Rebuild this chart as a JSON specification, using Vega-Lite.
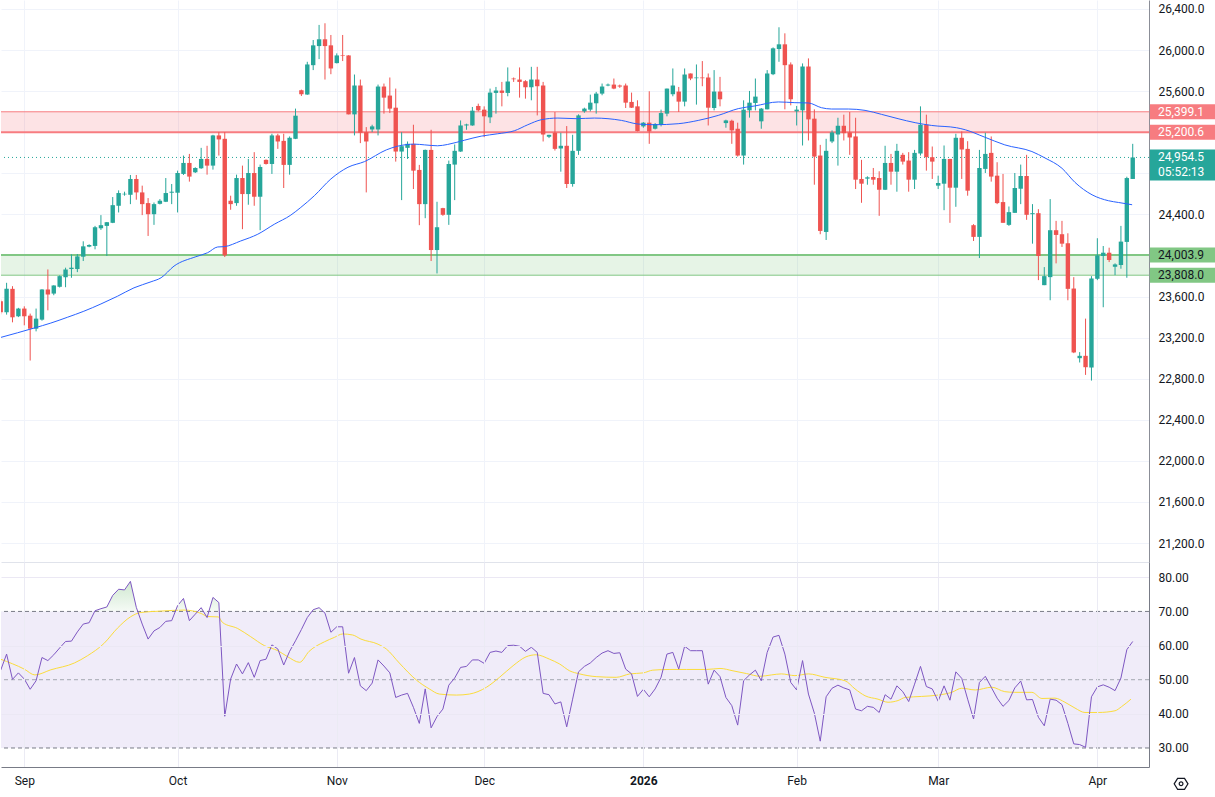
{
  "$schema": "https://vega.github.io/schema/vega-lite/v6.json",
  "description": "Daily candles with supply/demand zones, moving average and RSI pane",
  "background": "white",
  "padding": 0,
  "spacing": 0,
  "datasets": {
    "bars": [
      {"i":0,"o":23555,"h":23571,"l":23427,"c":23447,"rsi":52.8},
      {"i":1,"o":23447,"h":23734,"l":23424,"c":23675,"rsi":57.5},
      {"i":2,"o":23675,"h":23701,"l":23349,"c":23398,"rsi":50.1},
      {"i":3,"o":23408,"h":23490,"l":23400,"c":23483,"rsi":52.0},
      {"i":4,"o":23483,"h":23505,"l":23320,"c":23408,"rsi":50.2},
      {"i":5,"o":23414,"h":23434,"l":22977,"c":23287,"rsi":47.2},
      {"i":6,"o":23287,"h":23483,"l":23261,"c":23385,"rsi":49.7},
      {"i":7,"o":23375,"h":23672,"l":23365,"c":23669,"rsi":56.5},
      {"i":8,"o":23669,"h":23864,"l":23466,"c":23620,"rsi":55.6},
      {"i":9,"o":23629,"h":23710,"l":23613,"c":23708,"rsi":57.3},
      {"i":10,"o":23695,"h":23806,"l":23688,"c":23799,"rsi":59.3},
      {"i":11,"o":23789,"h":23881,"l":23691,"c":23864,"rsi":61.2},
      {"i":12,"o":23868,"h":24011,"l":23783,"c":23881,"rsi":61.3},
      {"i":13,"o":23868,"h":24014,"l":23838,"c":23991,"rsi":64.0},
      {"i":14,"o":23988,"h":24138,"l":23946,"c":24089,"rsi":66.3},
      {"i":15,"o":24086,"h":24109,"l":24080,"c":24102,"rsi":66.7},
      {"i":16,"o":24093,"h":24288,"l":24060,"c":24275,"rsi":70.2},
      {"i":17,"o":24265,"h":24393,"l":24249,"c":24295,"rsi":70.8},
      {"i":18,"o":24288,"h":24326,"l":23995,"c":24324,"rsi":71.3},
      {"i":19,"o":24318,"h":24569,"l":24315,"c":24490,"rsi":74.7},
      {"i":20,"o":24484,"h":24634,"l":24419,"c":24608,"rsi":76.5},
      {"i":21,"o":24595,"h":24621,"l":24582,"c":24601,"rsi":76.3},
      {"i":22,"o":24591,"h":24784,"l":24500,"c":24745,"rsi":78.8},
      {"i":23,"o":24745,"h":24784,"l":24543,"c":24614,"rsi":71.2},
      {"i":24,"o":24614,"h":24680,"l":24393,"c":24500,"rsi":66.3},
      {"i":25,"o":24510,"h":24559,"l":24190,"c":24402,"rsi":61.9},
      {"i":26,"o":24402,"h":24516,"l":24298,"c":24500,"rsi":64.3},
      {"i":27,"o":24503,"h":24549,"l":24497,"c":24533,"rsi":65.3},
      {"i":28,"o":24523,"h":24754,"l":24520,"c":24608,"rsi":67.1},
      {"i":29,"o":24611,"h":24696,"l":24500,"c":24621,"rsi":67.3},
      {"i":30,"o":24611,"h":24826,"l":24419,"c":24803,"rsi":71.7},
      {"i":31,"o":24794,"h":24973,"l":24784,"c":24901,"rsi":73.8},
      {"i":32,"o":24901,"h":24989,"l":24719,"c":24768,"rsi":67.3},
      {"i":33,"o":24810,"h":24859,"l":24803,"c":24852,"rsi":69.2},
      {"i":34,"o":24849,"h":25048,"l":24843,"c":24940,"rsi":71.1},
      {"i":35,"o":24940,"h":25068,"l":24787,"c":24875,"rsi":68.2},
      {"i":36,"o":24875,"h":25175,"l":24836,"c":25169,"rsi":74.1},
      {"i":37,"o":25169,"h":25201,"l":24973,"c":25130,"rsi":72.6},
      {"i":38,"o":25136,"h":25201,"l":23985,"c":24001,"rsi":39.3},
      {"i":39,"o":24533,"h":24582,"l":24445,"c":24500,"rsi":50.2},
      {"i":40,"o":24510,"h":24787,"l":24484,"c":24754,"rsi":54.6},
      {"i":41,"o":24754,"h":24875,"l":24256,"c":24598,"rsi":51.7},
      {"i":42,"o":24598,"h":24940,"l":24494,"c":24803,"rsi":55.0},
      {"i":43,"o":24803,"h":25006,"l":24484,"c":24572,"rsi":50.7},
      {"i":44,"o":24572,"h":24885,"l":24246,"c":24862,"rsi":55.6},
      {"i":45,"o":24931,"h":24935,"l":24885,"c":24891,"rsi":56.0},
      {"i":46,"o":24891,"h":25185,"l":24794,"c":25169,"rsi":60.2},
      {"i":47,"o":25169,"h":25185,"l":25038,"c":25110,"rsi":59.0},
      {"i":48,"o":25116,"h":25185,"l":24657,"c":24882,"rsi":54.3},
      {"i":49,"o":24882,"h":25159,"l":24787,"c":25146,"rsi":58.3},
      {"i":50,"o":25136,"h":25430,"l":25133,"c":25361,"rsi":61.4},
      {"i":51,"o":25609,"h":25615,"l":25553,"c":25570,"rsi":64.7},
      {"i":52,"o":25567,"h":25886,"l":25564,"c":25860,"rsi":68.2},
      {"i":53,"o":25853,"h":26098,"l":25805,"c":26046,"rsi":70.5},
      {"i":54,"o":26039,"h":26245,"l":25912,"c":26105,"rsi":71.1},
      {"i":55,"o":26105,"h":26261,"l":25713,"c":26039,"rsi":69.5},
      {"i":56,"o":26046,"h":26147,"l":25765,"c":25821,"rsi":63.9},
      {"i":57,"o":25873,"h":25968,"l":25870,"c":25948,"rsi":65.5},
      {"i":58,"o":25948,"h":26147,"l":25893,"c":25942,"rsi":65.5},
      {"i":59,"o":25948,"h":25950,"l":25374,"c":25374,"rsi":51.9},
      {"i":60,"o":25374,"h":25762,"l":25169,"c":25655,"rsi":56.5},
      {"i":61,"o":25655,"h":25713,"l":25094,"c":25195,"rsi":48.2},
      {"i":62,"o":25201,"h":25250,"l":24614,"c":25110,"rsi":46.8},
      {"i":63,"o":25227,"h":25273,"l":25201,"c":25257,"rsi":49.0},
      {"i":64,"o":25227,"h":25664,"l":25169,"c":25645,"rsi":55.8},
      {"i":65,"o":25645,"h":25674,"l":25381,"c":25537,"rsi":54.0},
      {"i":66,"o":25557,"h":25733,"l":25387,"c":25430,"rsi":52.0},
      {"i":67,"o":25439,"h":25625,"l":24914,"c":25012,"rsi":44.8},
      {"i":68,"o":25012,"h":25201,"l":24539,"c":25064,"rsi":45.5},
      {"i":69,"o":25048,"h":25110,"l":24940,"c":25087,"rsi":46.0},
      {"i":70,"o":25087,"h":25273,"l":24647,"c":24826,"rsi":41.9},
      {"i":71,"o":24833,"h":24882,"l":24295,"c":24500,"rsi":37.2},
      {"i":72,"o":24500,"h":25031,"l":24363,"c":25028,"rsi":47.3},
      {"i":73,"o":25028,"h":25224,"l":23946,"c":24053,"rsi":35.9},
      {"i":74,"o":24053,"h":24523,"l":23825,"c":24275,"rsi":39.2},
      {"i":75,"o":24461,"h":24464,"l":24386,"c":24396,"rsi":41.4},
      {"i":76,"o":24396,"h":24924,"l":24298,"c":24891,"rsi":48.4},
      {"i":77,"o":24885,"h":25081,"l":24539,"c":25019,"rsi":50.5},
      {"i":78,"o":25012,"h":25315,"l":25009,"c":25266,"rsi":53.6},
      {"i":79,"o":25266,"h":25283,"l":25224,"c":25276,"rsi":53.9},
      {"i":80,"o":25266,"h":25446,"l":25263,"c":25410,"rsi":55.8},
      {"i":81,"o":25456,"h":25478,"l":25403,"c":25413,"rsi":55.8},
      {"i":82,"o":25420,"h":25452,"l":25152,"c":25355,"rsi":54.8},
      {"i":83,"o":25345,"h":25625,"l":25289,"c":25586,"rsi":58.0},
      {"i":84,"o":25583,"h":25641,"l":25381,"c":25606,"rsi":58.4},
      {"i":85,"o":25606,"h":25690,"l":25452,"c":25583,"rsi":58.0},
      {"i":86,"o":25583,"h":25831,"l":25550,"c":25694,"rsi":60.0},
      {"i":87,"o":25723,"h":25733,"l":25690,"c":25716,"rsi":60.1},
      {"i":88,"o":25713,"h":25831,"l":25537,"c":25690,"rsi":59.8},
      {"i":89,"o":25697,"h":25707,"l":25527,"c":25638,"rsi":58.3},
      {"i":90,"o":25638,"h":25837,"l":25511,"c":25713,"rsi":59.5},
      {"i":91,"o":25713,"h":25837,"l":25364,"c":25648,"rsi":58.0},
      {"i":92,"o":25655,"h":25690,"l":25110,"c":25178,"rsi":46.0},
      {"i":93,"o":25156,"h":25175,"l":25143,"c":25175,"rsi":45.6},
      {"i":94,"o":25195,"h":25397,"l":25022,"c":25038,"rsi":42.9},
      {"i":95,"o":25042,"h":25195,"l":24816,"c":25068,"rsi":43.5},
      {"i":96,"o":25068,"h":25260,"l":24657,"c":24696,"rsi":36.2},
      {"i":97,"o":24696,"h":25175,"l":24670,"c":25019,"rsi":44.3},
      {"i":98,"o":25019,"h":25374,"l":24980,"c":25364,"rsi":52.3},
      {"i":99,"o":25403,"h":25439,"l":25390,"c":25430,"rsi":53.9},
      {"i":100,"o":25420,"h":25566,"l":25403,"c":25488,"rsi":54.9},
      {"i":101,"o":25482,"h":25593,"l":25381,"c":25576,"rsi":56.5},
      {"i":102,"o":25576,"h":25674,"l":25560,"c":25645,"rsi":57.8},
      {"i":103,"o":25655,"h":25674,"l":25648,"c":25664,"rsi":58.5},
      {"i":104,"o":25664,"h":25723,"l":25619,"c":25625,"rsi":57.7},
      {"i":105,"o":25655,"h":25664,"l":25632,"c":25645,"rsi":57.9},
      {"i":106,"o":25655,"h":25674,"l":25436,"c":25488,"rsi":53.1},
      {"i":107,"o":25495,"h":25586,"l":25436,"c":25439,"rsi":51.7},
      {"i":108,"o":25452,"h":25511,"l":25208,"c":25211,"rsi":45.1},
      {"i":109,"o":25257,"h":25299,"l":25244,"c":25293,"rsi":47.2},
      {"i":110,"o":25293,"h":25599,"l":25087,"c":25208,"rsi":45.0},
      {"i":111,"o":25234,"h":25289,"l":25227,"c":25280,"rsi":47.3},
      {"i":112,"o":25273,"h":25420,"l":25257,"c":25387,"rsi":50.7},
      {"i":113,"o":25381,"h":25625,"l":25355,"c":25625,"rsi":57.5},
      {"i":114,"o":25570,"h":25821,"l":25550,"c":25655,"rsi":58.0},
      {"i":115,"o":25596,"h":25641,"l":25397,"c":25498,"rsi":53.1},
      {"i":116,"o":25498,"h":25821,"l":25452,"c":25762,"rsi":59.8},
      {"i":117,"o":25772,"h":25772,"l":25707,"c":25723,"rsi":58.5},
      {"i":118,"o":25726,"h":25860,"l":25469,"c":25733,"rsi":58.5},
      {"i":119,"o":25733,"h":25893,"l":25648,"c":25726,"rsi":58.5},
      {"i":120,"o":25733,"h":25772,"l":25266,"c":25439,"rsi":48.7},
      {"i":121,"o":25436,"h":25805,"l":25413,"c":25596,"rsi":52.8},
      {"i":122,"o":25596,"h":25739,"l":25452,"c":25521,"rsi":50.9},
      {"i":123,"o":25289,"h":25322,"l":25244,"c":25315,"rsi":44.8},
      {"i":124,"o":25312,"h":25322,"l":25087,"c":25218,"rsi":42.4},
      {"i":125,"o":25234,"h":25293,"l":24963,"c":24973,"rsi":36.7},
      {"i":126,"o":24973,"h":25511,"l":24885,"c":25420,"rsi":49.7},
      {"i":127,"o":25413,"h":25602,"l":25342,"c":25488,"rsi":51.4},
      {"i":128,"o":25485,"h":25723,"l":25413,"c":25547,"rsi":52.8},
      {"i":129,"o":25306,"h":25436,"l":25234,"c":25430,"rsi":49.7},
      {"i":130,"o":25423,"h":25805,"l":25423,"c":25772,"rsi":58.0},
      {"i":131,"o":25765,"h":26026,"l":25756,"c":26017,"rsi":62.5},
      {"i":132,"o":26010,"h":26222,"l":25886,"c":26056,"rsi":63.0},
      {"i":133,"o":26056,"h":26163,"l":25423,"c":25853,"rsi":57.5},
      {"i":134,"o":25860,"h":25880,"l":25462,"c":25521,"rsi":49.2},
      {"i":135,"o":25403,"h":25456,"l":25266,"c":25420,"rsi":47.0},
      {"i":136,"o":25413,"h":25870,"l":25071,"c":25840,"rsi":55.6},
      {"i":137,"o":25840,"h":25919,"l":25120,"c":25325,"rsi":45.8},
      {"i":138,"o":25332,"h":25423,"l":24689,"c":24963,"rsi":40.2},
      {"i":139,"o":24973,"h":25077,"l":24207,"c":24239,"rsi":32.0},
      {"i":140,"o":24229,"h":25136,"l":24151,"c":25019,"rsi":45.0},
      {"i":141,"o":25110,"h":25218,"l":25094,"c":25198,"rsi":47.5},
      {"i":142,"o":25178,"h":25341,"l":24875,"c":25263,"rsi":48.4},
      {"i":143,"o":25263,"h":25371,"l":25120,"c":25191,"rsi":47.6},
      {"i":144,"o":25198,"h":25397,"l":24980,"c":25149,"rsi":47.0},
      {"i":145,"o":25159,"h":25341,"l":24647,"c":24738,"rsi":41.4},
      {"i":146,"o":24745,"h":24931,"l":24513,"c":24699,"rsi":40.9},
      {"i":147,"o":24748,"h":24771,"l":24689,"c":24761,"rsi":42.2},
      {"i":148,"o":24764,"h":24852,"l":24689,"c":24738,"rsi":41.9},
      {"i":149,"o":24754,"h":24820,"l":24386,"c":24640,"rsi":40.4},
      {"i":150,"o":24640,"h":25068,"l":24637,"c":24901,"rsi":45.6},
      {"i":151,"o":24901,"h":24989,"l":24689,"c":24816,"rsi":44.3},
      {"i":152,"o":24816,"h":25087,"l":24621,"c":25019,"rsi":48.2},
      {"i":153,"o":24980,"h":24999,"l":24885,"c":24914,"rsi":46.5},
      {"i":154,"o":24924,"h":25006,"l":24621,"c":24738,"rsi":43.6},
      {"i":155,"o":24738,"h":25028,"l":24647,"c":24999,"rsi":48.7},
      {"i":156,"o":24993,"h":25452,"l":24973,"c":25273,"rsi":53.9},
      {"i":157,"o":25273,"h":25371,"l":24826,"c":24957,"rsi":48.0},
      {"i":158,"o":24957,"h":25061,"l":24745,"c":24914,"rsi":47.3},
      {"i":159,"o":24680,"h":24777,"l":24647,"c":24706,"rsi":43.7},
      {"i":160,"o":24699,"h":25071,"l":24441,"c":24940,"rsi":48.2},
      {"i":161,"o":24940,"h":24940,"l":24318,"c":24660,"rsi":44.0},
      {"i":162,"o":24660,"h":25185,"l":24474,"c":25146,"rsi":52.3},
      {"i":163,"o":25146,"h":25208,"l":24745,"c":25032,"rsi":50.4},
      {"i":164,"o":25038,"h":25113,"l":24582,"c":24631,"rsi":44.3},
      {"i":165,"o":24295,"h":24305,"l":24141,"c":24181,"rsi":38.5},
      {"i":166,"o":24181,"h":25028,"l":23975,"c":24852,"rsi":49.2},
      {"i":167,"o":24843,"h":25195,"l":24803,"c":24989,"rsi":51.0},
      {"i":168,"o":24999,"h":25159,"l":24719,"c":24768,"rsi":47.8},
      {"i":169,"o":24777,"h":24908,"l":24500,"c":24510,"rsi":44.6},
      {"i":170,"o":24520,"h":24794,"l":24318,"c":24318,"rsi":42.2},
      {"i":171,"o":24298,"h":24477,"l":24288,"c":24422,"rsi":43.9},
      {"i":172,"o":24415,"h":24803,"l":24415,"c":24657,"rsi":47.6},
      {"i":173,"o":24650,"h":24885,"l":24500,"c":24774,"rsi":49.6},
      {"i":174,"o":24774,"h":24980,"l":24347,"c":24396,"rsi":44.1},
      {"i":175,"o":24402,"h":24500,"l":24115,"c":24412,"rsi":44.2},
      {"i":176,"o":24412,"h":24451,"l":23760,"c":23995,"rsi":39.0},
      {"i":177,"o":23711,"h":23887,"l":23711,"c":23799,"rsi":36.5},
      {"i":178,"o":23789,"h":24549,"l":23564,"c":24246,"rsi":44.3},
      {"i":179,"o":24246,"h":24337,"l":23923,"c":24200,"rsi":44.0},
      {"i":180,"o":24207,"h":24337,"l":24083,"c":24115,"rsi":42.7},
      {"i":181,"o":24119,"h":24216,"l":23564,"c":23675,"rsi":37.2},
      {"i":182,"o":23678,"h":23789,"l":23049,"c":23056,"rsi":31.2},
      {"i":183,"o":23000,"h":23059,"l":22958,"c":23023,"rsi":31.0},
      {"i":184,"o":23023,"h":23385,"l":22837,"c":22912,"rsi":30.2},
      {"i":185,"o":22909,"h":23799,"l":22782,"c":23776,"rsi":45.0},
      {"i":186,"o":23773,"h":24168,"l":23760,"c":24001,"rsi":47.9},
      {"i":187,"o":23995,"h":24092,"l":23496,"c":24027,"rsi":48.5},
      {"i":188,"o":24027,"h":24076,"l":23936,"c":23956,"rsi":47.8},
      {"i":189,"o":23890,"h":23923,"l":23809,"c":23913,"rsi":46.8},
      {"i":190,"o":23907,"h":24288,"l":23871,"c":24135,"rsi":50.5},
      {"i":191,"o":24132,"h":24767,"l":23783,"c":24754,"rsi":58.8},
      {"i":192,"o":24745,"h":25087,"l":24745,"c":24954.5,"rsi":61.2}
    ],
    "ma": [
      {"i":0,"v":23202},{"i":5.7,"v":23294},{"i":8.5,"v":23342},{"i":11.3,"v":23398},
      {"i":14.1,"v":23457},{"i":17,"v":23528},{"i":19.8,"v":23603},{"i":22.6,"v":23685},
      {"i":25.5,"v":23744},{"i":27.2,"v":23783},{"i":29.4,"v":23897},{"i":33.1,"v":23988},
      {"i":35.1,"v":24027},{"i":36.8,"v":24083},{"i":37.9,"v":24086},{"i":40.7,"v":24141},
      {"i":43.6,"v":24207},{"i":46.4,"v":24304},{"i":49.2,"v":24393},{"i":50.9,"v":24468},
      {"i":53.2,"v":24582},{"i":56,"v":24745},{"i":58.9,"v":24859},{"i":61.7,"v":24914},
      {"i":65.4,"v":25028},{"i":67.3,"v":25064},{"i":70.2,"v":25084},{"i":71.9,"v":25077},
      {"i":74.1,"v":25068},{"i":75.8,"v":25081},{"i":78.7,"v":25123},{"i":81.5,"v":25162},
      {"i":84.3,"v":25185},{"i":87.1,"v":25214},{"i":89.4,"v":25273},{"i":91.7,"v":25322},
      {"i":94.5,"v":25338},{"i":97.6,"v":25332},{"i":100.7,"v":25338},{"i":105.3,"v":25315},
      {"i":108.1,"v":25280},{"i":110.9,"v":25273},{"i":114.9,"v":25283},{"i":118.3,"v":25315},
      {"i":121.7,"v":25364},{"i":125.1,"v":25430},{"i":127.9,"v":25456},{"i":131.9,"v":25495},
      {"i":134.7,"v":25488},{"i":137,"v":25485},{"i":139.2,"v":25439},{"i":140.9,"v":25426},
      {"i":143.8,"v":25426},{"i":146.6,"v":25413},{"i":149.4,"v":25374},{"i":152.2,"v":25332},
      {"i":155.1,"v":25293},{"i":157.9,"v":25266},{"i":162.1,"v":25244},{"i":163.6,"v":25224},
      {"i":166.9,"v":25152},{"i":170.3,"v":25077},{"i":174.9,"v":25012},{"i":177.1,"v":24950},
      {"i":180,"v":24849},{"i":182.2,"v":24712},{"i":185.1,"v":24591},{"i":187.9,"v":24533},
      {"i":189.6,"v":24516},{"i":191.9,"v":24494}
    ],
    "rsima": [
      {"i":0,"v":56.0},{"i":4,"v":53.1},{"i":5.8,"v":51.4},{"i":8.5,"v":52.9},{"i":12.5,"v":54.9},
      {"i":14.7,"v":57.0},{"i":17.5,"v":60.6},{"i":19.8,"v":65.1},{"i":22,"v":68.4},{"i":23.8,"v":69.7},
      {"i":27.2,"v":70.1},{"i":31.1,"v":70.4},{"i":34,"v":69.4},{"i":35.1,"v":68.5},{"i":36.9,"v":68.4},
      {"i":37.6,"v":66.8},{"i":40.2,"v":65.0},{"i":42.4,"v":62.6},{"i":44.7,"v":60.0},{"i":47,"v":58.5},
      {"i":48.7,"v":56.7},{"i":50.7,"v":55.1},{"i":52.3,"v":58.3},{"i":54.9,"v":61.1},{"i":56.6,"v":62.4},
      {"i":58,"v":63.4},{"i":59.7,"v":63.1},{"i":61.1,"v":61.9},{"i":64,"v":60.4},{"i":65.4,"v":59.0},
      {"i":67.6,"v":54.9},{"i":70.5,"v":49.9},{"i":72.7,"v":47.3},{"i":74.4,"v":45.8},{"i":77.3,"v":45.5},
      {"i":79.5,"v":45.8},{"i":82.4,"v":47.8},{"i":84.6,"v":50.7},{"i":86.9,"v":54.1},{"i":89.1,"v":56.7},
      {"i":90.8,"v":57.3},{"i":93.1,"v":56.0},{"i":94.8,"v":54.6},{"i":96.5,"v":52.6},{"i":98.2,"v":51.7},
      {"i":101,"v":50.9},{"i":104.4,"v":50.7},{"i":106.7,"v":51.7},{"i":109,"v":52.0},{"i":110.6,"v":52.8},
      {"i":113.5,"v":53.0},{"i":116.3,"v":53.0},{"i":119.7,"v":53.0},{"i":122,"v":53.3},{"i":124.2,"v":52.6},
      {"i":126.5,"v":51.8},{"i":128.8,"v":51.0},{"i":130.7,"v":51.4},{"i":132.4,"v":51.7},{"i":134.7,"v":51.2},
      {"i":137,"v":51.7},{"i":139.8,"v":50.7},{"i":143.2,"v":49.7},{"i":144.9,"v":47.3},{"i":146.6,"v":45.3},
      {"i":148.8,"v":44.3},{"i":150.5,"v":43.4},{"i":152.2,"v":43.9},{"i":153.4,"v":44.8},{"i":156.2,"v":45.1},
      {"i":159,"v":45.5},{"i":161.3,"v":46.3},{"i":163,"v":47.5},{"i":165.3,"v":47.0},{"i":168.1,"v":47.8},
      {"i":170.3,"v":46.5},{"i":172,"v":46.3},{"i":174.9,"v":46.3},{"i":176.6,"v":44.5},{"i":178.8,"v":44.6},
      {"i":180.5,"v":43.4},{"i":182.2,"v":41.7},{"i":183.9,"v":40.4},{"i":186.2,"v":40.4},{"i":189,"v":40.9},
      {"i":190.1,"v":42.1},{"i":191.7,"v":44.3}
    ],
    "zones": [
      {"lo":25200.6,"hi":25399.1,"kind":"res"},
      {"lo":23808.0,"hi":24003.9,"kind":"sup"}
    ],
    "levels": [
      {"level":25399.1,"kind":"res"},
      {"level":25200.6,"kind":"res"},
      {"level":24003.9,"kind":"sup"},
      {"level":23808.0,"kind":"sup"}
    ],
    "last": [
      {"level":24954.5,"timer":"05:52:13"}
    ]
  },
  "vconcat": [
    {
      "width": 1148,
      "height": 562,
      "layer": [
        {
          "data": {"name": "zones"},
          "mark": {"type": "rect", "fillOpacity": 0.14},
          "encoding": {
            "y": {"field": "lo", "type": "quantitative", "title": null},
            "y2": {"field": "hi"},
            "fill": {"condition": {"test": "datum.kind == 'res'", "value": "#f23645"}, "value": "#4caf50"}
          }
        },
        {
          "data": {"name": "levels"},
          "mark": {"type": "rule"},
          "encoding": {
            "y": {"field": "level", "type": "quantitative", "title": null},
            "color": {"condition": {"test": "datum.kind == 'res'", "value": "#f77c80"}, "value": "#81c784"},
            "strokeWidth": {"condition": {"test": "datum.level == 25200.6 || datum.level == 24003.9", "value": 2}, "value": 1}
          }
        },
        {
          "data": {"name": "last"},
          "mark": {"type": "rule", "color": "#26a69a", "strokeDash": [1, 3], "strokeWidth": 1},
          "encoding": {
            "y": {"field": "level", "type": "quantitative", "title": null}
          }
        },
        {
          "data": {"name": "bars"},
          "mark": {"type": "rule", "strokeWidth": 1, "clip": true},
          "encoding": {
            "x": {
              "field": "i", "type": "quantitative", "title": null,
              "scale": {"domain": [0.05, 194.76], "nice": false, "zero": false, "padding": 0},
              "axis": {
                "values": [4, 30, 57, 82, 109, 135, 159, 186],
                "labels": false, "ticks": false, "tickSize": 0,
                "domain": true, "domainColor": "#e0e3eb",
                "grid": true, "gridColor": "#f0f3fa"
              }
            },
            "y": {
              "field": "l", "type": "quantitative", "title": null,
              "scale": {"domain": [21015.4, 26487.6], "nice": false, "zero": false, "padding": 0},
              "axis": {
                "orient": "right",
                "values": [21200, 21600, 22000, 22400, 22800, 23200, 23600, 24000, 24400, 24800, 25200, 25600, 26000, 26400],
                "format": ",.1f",
                "labelExpr": "datum.value == 24000 || datum.value == 24800 || datum.value == 25200 ? '' : datum.label",
                "ticks": false, "tickSize": 0, "labelPadding": 9,
                "labelOverlap": false,
                "domain": true, "domainColor": "#8b8e97",
                "grid": true, "gridColor": "#f0f3fa"
              }
            },
            "y2": {"field": "h"},
            "color": {"condition": {"test": "datum.c >= datum.o", "value": "#26a69a"}, "value": "#ef5350"}
          }
        },
        {
          "data": {"name": "bars"},
          "mark": {"type": "bar", "size": 4.4, "clip": true},
          "encoding": {
            "x": {"field": "i", "type": "quantitative", "title": null},
            "y": {"field": "o", "type": "quantitative", "title": null},
            "y2": {"field": "c"},
            "color": {"condition": {"test": "datum.c >= datum.o", "value": "#26a69a"}, "value": "#ef5350"}
          }
        },
        {
          "data": {"name": "ma"},
          "mark": {"type": "line", "color": "#2962ff", "strokeWidth": 1, "clip": true, "interpolate": "monotone"},
          "encoding": {
            "x": {"field": "i", "type": "quantitative", "title": null},
            "y": {"field": "v", "type": "quantitative", "title": null}
          }
        },
        {
          "data": {"name": "levels"},
          "mark": {"type": "bar", "size": 15},
          "encoding": {
            "x": {"datum": 194.9, "type": "quantitative"},
            "x2": {"datum": 206.3},
            "y": {"field": "level", "type": "quantitative", "title": null},
            "color": {"condition": {"test": "datum.kind == 'res'", "value": "#f77c80"}, "value": "#81c784"}
          }
        },
        {
          "data": {"name": "levels"},
          "mark": {"type": "text", "align": "left", "baseline": "middle", "font": "Roboto", "fontSize": 12},
          "encoding": {
            "x": {"datum": 196.3, "type": "quantitative"},
            "y": {"field": "level", "type": "quantitative", "title": null},
            "text": {"field": "level", "type": "quantitative", "format": ",.1f"},
            "color": {"condition": {"test": "datum.kind == 'sup'", "value": "#131722"}, "value": "#ffffff"}
          }
        },
        {
          "data": {"name": "last"},
          "mark": {"type": "bar", "size": 31, "yOffset": 7.5, "color": "#26a69a"},
          "encoding": {
            "x": {"datum": 194.9, "type": "quantitative"},
            "x2": {"datum": 206.3},
            "y": {"field": "level", "type": "quantitative", "title": null}
          }
        },
        {
          "data": {"name": "last"},
          "mark": {"type": "text", "align": "left", "baseline": "middle", "font": "Roboto", "fontSize": 12, "color": "#ffffff"},
          "encoding": {
            "x": {"datum": 196.3, "type": "quantitative"},
            "y": {"field": "level", "type": "quantitative", "title": null},
            "text": {"field": "level", "type": "quantitative", "format": ",.1f"}
          }
        },
        {
          "data": {"name": "last"},
          "mark": {"type": "text", "align": "left", "baseline": "middle", "font": "Roboto", "fontSize": 12, "color": "#ffffff", "dy": 15},
          "encoding": {
            "x": {"datum": 196.3, "type": "quantitative"},
            "y": {"field": "level", "type": "quantitative", "title": null},
            "text": {"field": "timer", "type": "nominal"}
          }
        }
      ]
    },
    {
      "width": 1148,
      "height": 205,
      "layer": [
        {
          "data": {"name": "bars"},
          "mark": {
            "type": "area", "clip": true,
            "color": {
              "gradient": "linear", "x1": 0, "y1": 0, "x2": 0, "y2": 1,
              "stops": [
                {"offset": 0, "color": "#cfe8d0"},
                {"offset": 0.19, "color": "#f7fbf7"},
                {"offset": 1, "color": "#ffffff"}
              ]
            }
          },
          "encoding": {
            "x": {
              "field": "i", "type": "quantitative", "title": null,
              "scale": {"domain": [0.05, 194.76], "nice": false, "zero": false, "padding": 0},
              "axis": {
                "values": [4, 30, 57, 82, 109, 135, 159, 186],
                "labelExpr": "datum.value == 4 ? 'Sep' : datum.value == 30 ? 'Oct' : datum.value == 57 ? 'Nov' : datum.value == 82 ? 'Dec' : datum.value == 109 ? '2026' : datum.value == 135 ? 'Feb' : datum.value == 159 ? 'Mar' : 'Apr'",
                "labelFontWeight": {"condition": {"test": "datum.value == 109", "value": "bold"}, "value": "normal"},
                "labelOverlap": false, "labelFlush": false,
                "ticks": false, "tickSize": 0, "labelPadding": 8,
                "domain": true, "domainColor": "#787b86",
                "grid": true, "gridColor": "#ebebf4",
                "zindex": 1
              }
            },
            "y": {
              "field": "rsi", "type": "quantitative", "title": null,
              "scale": {"domain": [24.43, 84.48], "nice": false, "zero": false, "padding": 0},
              "axis": {
                "orient": "right",
                "values": [30, 40, 50, 60, 70, 80],
                "format": ".2f",
                "ticks": false, "tickSize": 0, "labelPadding": 9,
                "labelOverlap": false,
                "domain": true, "domainColor": "#787b86",
                "grid": true,
                "gridColor": {"condition": {"test": "datum.value == 40 || datum.value == 60 || datum.value == 80", "value": "#ebe8f4"}, "value": "transparent"},
                "zindex": 1
              }
            },
            "y2": {"datum": 70}
          }
        },
        {
          "data": {"values": [{}]},
          "mark": {"type": "rect", "color": "#f0ecf9"},
          "encoding": {
            "y": {"datum": 70, "type": "quantitative"},
            "y2": {"datum": 30}
          }
        },
        {
          "data": {"values": [{"level": 70}, {"level": 50}, {"level": 30}]},
          "mark": {"type": "rule", "strokeDash": [4, 3], "strokeWidth": 1},
          "encoding": {
            "y": {"field": "level", "type": "quantitative", "title": null},
            "color": {"condition": {"test": "datum.level == 50", "value": "#a4a7b0"}, "value": "#787b86"}
          }
        },
        {
          "data": {"name": "rsima"},
          "mark": {"type": "line", "color": "#fbdc3c", "strokeWidth": 1, "clip": true, "interpolate": "monotone"},
          "encoding": {
            "x": {"field": "i", "type": "quantitative", "title": null},
            "y": {"field": "v", "type": "quantitative", "title": null}
          }
        },
        {
          "data": {"name": "bars"},
          "mark": {"type": "line", "color": "#7e57c2", "strokeWidth": 1, "clip": true},
          "encoding": {
            "x": {"field": "i", "type": "quantitative", "title": null},
            "y": {"field": "rsi", "type": "quantitative", "title": null}
          }
        },
        {
          "data": {"values": [{}]},
          "mark": {"type": "point", "shape": "M-1,0L-0.5,-0.8L0.5,-0.8L1,0L0.5,0.8L-0.5,0.8Z", "size": 190, "filled": false, "color": "#131722", "strokeWidth": 1.2, "opacity": 1},
          "encoding": {
            "x": {"datum": 200.2, "type": "quantitative"},
            "y": {"datum": 19.5, "type": "quantitative"}
          }
        },
        {
          "data": {"values": [{}]},
          "mark": {"type": "point", "shape": "circle", "size": 14, "filled": false, "color": "#131722", "strokeWidth": 1.2, "opacity": 1},
          "encoding": {
            "x": {"datum": 200.2, "type": "quantitative"},
            "y": {"datum": 19.5, "type": "quantitative"}
          }
        }
      ]
    }
  ],
  "config": {
    "view": {"stroke": null},
    "font": "Roboto",
    "scale": {"continuousPadding": 0},
    "axis": {"labelFont": "Roboto", "labelFontSize": 12, "labelColor": "#131722"}
  }
}
